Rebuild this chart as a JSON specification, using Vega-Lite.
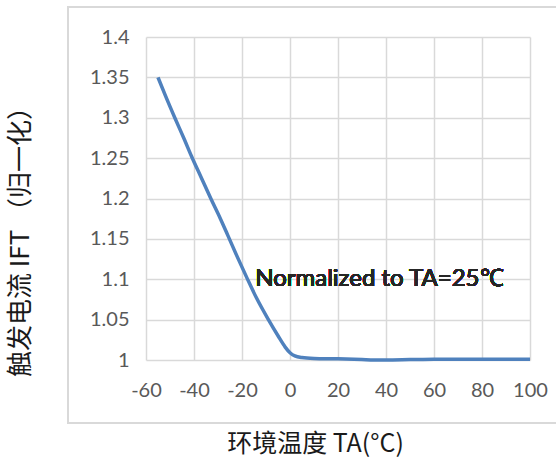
{
  "$schema": "https://vega.github.io/schema/vega-lite/v6.json",
  "width": 384,
  "height": 323,
  "autosize": {"type": "none"},
  "padding": {"left": 146, "top": 37, "right": 26, "bottom": 101},
  "background": "white",
  "config": {
    "view": {"stroke": null},
    "font": "Lato"
  },
  "data": {
    "values": [
      {"t": -55, "ift": 1.35},
      {"t": -52, "ift": 1.328},
      {"t": -48, "ift": 1.3},
      {"t": -44, "ift": 1.273},
      {"t": -41, "ift": 1.252},
      {"t": -37, "ift": 1.226},
      {"t": -33, "ift": 1.2},
      {"t": -29, "ift": 1.175},
      {"t": -26, "ift": 1.155},
      {"t": -22, "ift": 1.128},
      {"t": -18, "ift": 1.102},
      {"t": -14, "ift": 1.077},
      {"t": -9, "ift": 1.05},
      {"t": -5, "ift": 1.03},
      {"t": -2, "ift": 1.016},
      {"t": 0, "ift": 1.009},
      {"t": 2, "ift": 1.005},
      {"t": 5, "ift": 1.003},
      {"t": 10, "ift": 1.002},
      {"t": 20, "ift": 1.0015},
      {"t": 30, "ift": 1.0005},
      {"t": 35, "ift": 1.0},
      {"t": 40, "ift": 1.0},
      {"t": 50, "ift": 1.0005},
      {"t": 60, "ift": 1.001},
      {"t": 80, "ift": 1.001},
      {"t": 100, "ift": 1.001}
    ]
  },
  "layer": [
    {
      "mark": {"type": "rect", "fill": null, "stroke": "#d9d9d9", "strokeWidth": 1.5, "clip": false},
      "encoding": {
        "x": {"datum": -92.5, "type": "quantitative", "scale": {"domain": [-60, 100], "nice": false, "zero": false}},
        "x2": {"datum": 115},
        "y": {"datum": 1.4372, "type": "quantitative", "scale": {"domain": [1, 1.4], "nice": false, "zero": false}},
        "y2": {"datum": 0.922}
      }
    },
    {
      "mark": {"type": "line", "color": "#4f81bd", "strokeWidth": 3.5, "interpolate": "monotone"},
      "encoding": {
        "x": {
          "field": "t", "type": "quantitative",
          "scale": {"domain": [-60, 100], "nice": false, "zero": false},
          "axis": {
            "values": [-60, -40, -20, 0, 20, 40, 60, 80, 100],
            "labelExpr": "datum.value + ''",
            "labelFlush": false, "labelOverlap": false,
            "domain": false, "ticks": false,
            "grid": true, "gridColor": "#d9d9d9", "gridWidth": 1.5,
            "labelFontSize": 20, "labelColor": "#595959", "labelPadding": 20,
            "labelFont": "Lato",
            "title": "环境温度  TA(°C)",
            "titleFont": "Noto Sans CJK SC", "titleFontSize": 25, "titleFontWeight": "normal",
            "titleColor": "#1a1a1a", "titleX": 169, "titleY": 83, "titleBaseline": "middle", "titleAlign": "center"
          }
        },
        "y": {
          "field": "ift", "type": "quantitative",
          "scale": {"domain": [1, 1.4], "nice": false, "zero": false},
          "axis": {
            "values": [1, 1.05, 1.1, 1.15, 1.2, 1.25, 1.3, 1.35, 1.4],
            "format": "~g",
            "domain": false, "ticks": false,
            "grid": true, "gridColor": "#d9d9d9", "gridWidth": 1.5,
            "labelFontSize": 20, "labelColor": "#595959", "labelPadding": 17,
            "labelFont": "Lato",
            "title": "触发电流  IFT （归一化）",
            "titleFont": "Noto Sans CJK SC", "titleFontSize": 26, "titleFontWeight": "normal",
            "titleColor": "#1a1a1a", "titleX": -126, "titleY": 198, "titleBaseline": "middle", "titleAlign": "center", "titleAngle": -90
          }
        }
      }
    },
    {
      "mark": {"type": "text", "text": "Normalized to TA=25℃", "align": "left", "baseline": "middle", "fontSize": 24, "font": "Lato", "fontWeight": "normal", "fill": "#262626", "strokeWidth": 0, "clip": false},
      "encoding": {
        "x": {"datum": -14.5, "type": "quantitative", "scale": {"domain": [-60, 100], "nice": false, "zero": false}},
        "y": {"datum": 1.1, "type": "quantitative", "scale": {"domain": [1, 1.4], "nice": false, "zero": false}}
      }
    }
  ]
}
